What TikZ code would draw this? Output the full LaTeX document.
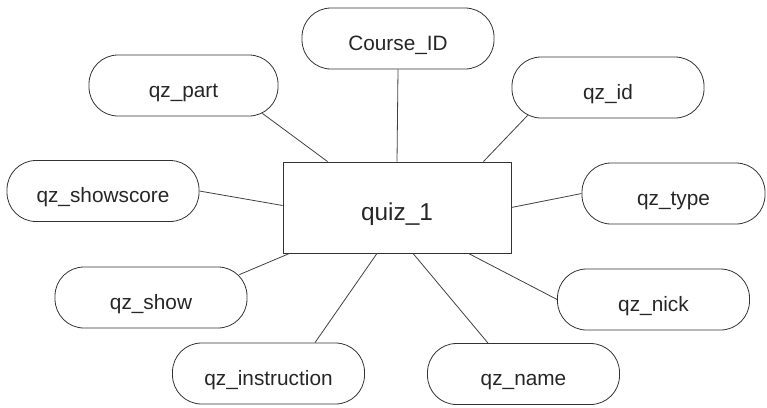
\documentclass[tikz,border=0pt]{standalone}
\usepackage{fontspec}
\setmainfont{Liberation Sans}
\begin{document}
\begin{tikzpicture}[x=1pt,y=-1pt,
  attr/.style={draw=black!80, line width=0.8pt, rounded corners=29pt,
    minimum width=192pt, minimum height=61pt, inner sep=0pt,
    text height=27pt, text depth=3.6pt,
    font=\fontsize{20.8}{24}\selectfont, text=black!85},
  entity/.style={draw=black!80, line width=0.8pt, minimum width=228pt,
    minimum height=91pt, inner sep=0pt,
    text height=28pt, text depth=3pt,
    font=\fontsize{24.4}{28}\selectfont, text=black!85},
  link/.style={draw=black!75, line width=0.8pt}]
\useasboundingbox (0,0) rectangle (767,407);

% central entity
\node[entity] (quiz) at (397,207.5) {quiz\_1};

% attributes
\node[attr] (course)   at (398,38.5)   {Course\_ID};
\node[attr, minimum width=189pt] (part) at (183.5,85.5) {qz\_part};
\node[attr] (id)       at (608,87.5)   {qz\_id};
\node[attr] (score)    at (103,191)    {qz\_showscore};
\node[attr, minimum width=183pt] (type) at (673.5,193.5) {qz\_type};
\node[attr] (show)     at (151,297.5)  {qz\_show};
\node[attr] (nick)     at (653.5,299.5) {qz\_nick};
\node[attr] (instr)    at (268.5,373.5) {qz\_instruction};
\node[attr] (name)     at (523.5,374)  {qz\_name};

% connectors
\draw[link] (course.south) -- (quiz.north);
\draw[link] ([xshift=-16pt,yshift=3pt]part.south east) -- ([xshift=45pt]quiz.north west);
\draw[link] ([xshift=16pt,yshift=3pt]id.south west) -- ([xshift=-28pt]quiz.north east);
\draw[link] (score.east) -- ([yshift=2pt]quiz.west);
\draw[link] (quiz.east) -- (type.west);
\draw[link] ([xshift=7pt]quiz.south west) -- ([xshift=-8pt,yshift=-8pt]show.north east);
\draw[link] ([xshift=-20pt]quiz.south) -- ([xshift=46.5pt]instr.north);
\draw[link] ([xshift=16pt]quiz.south) -- ([xshift=-35.5pt]name.north);
\draw[link] ([xshift=-43pt]quiz.south east) -- (nick.west);
\end{tikzpicture}
\end{document}
